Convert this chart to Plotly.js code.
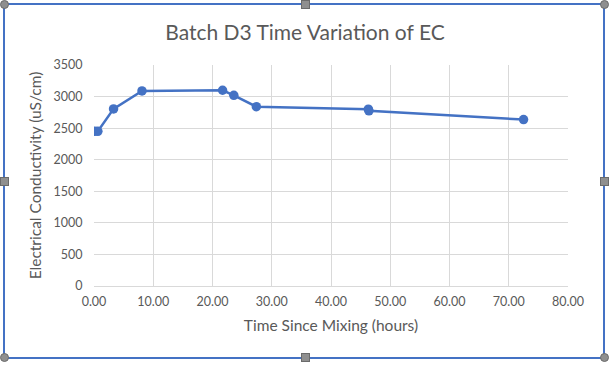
<!DOCTYPE html>
<html>
<head>
<meta charset="utf-8">
<script src="https://cdn.plot.ly/plotly-3.0.1.min.js"></script>
<style>
html,body{margin:0;padding:0;background:#fff;overflow:hidden;}
#wrap{position:relative;width:610px;height:367px;}
#chart{position:absolute;left:0;top:0;width:610px;height:367px;}
#frame{position:absolute;left:3px;top:3px;width:598px;height:352px;border:2px solid #4472C4;box-sizing:content-box;pointer-events:none;}
.h{position:absolute;width:9px;height:9px;background:#8f8f8f;border:1px solid #6b6b6b;box-sizing:border-box;}
.c{border-radius:50%;}
</style>
</head>
<body>
<div id="wrap">
<div id="chart"></div>
<div id="frame"></div>
</div>
<script>
const timeHours = [0.1, 0.65, 3.3, 8.1, 21.7, 23.6, 27.4, 46.3, 46.4, 72.5];
const ecValues  = [2450, 2450, 2805, 3090, 3100, 3020, 2840, 2800, 2775, 2635];
const xTickVals = [0, 10, 20, 30, 40, 50, 60, 70, 80];
const yTickVals = [0, 500, 1000, 1500, 2000, 2500, 3000, 3500];

const font = "Lato, 'Open Sans', sans-serif";
const trace = {
  x: timeHours, y: ecValues, type: 'scatter', mode: 'lines+markers',
  line: {color: '#4472C4', width: 2.5},
  marker: {color: '#4472C4', size: 9.5},
  hoverinfo: 'skip'
};
const layout = {
  width: 610, height: 367,
  margin: {l: 93.5, r: 42, t: 65, b: 81, pad: 0},
  paper_bgcolor: '#ffffff', plot_bgcolor: '#ffffff',
  showlegend: false,
  title: {text: 'Batch D3 Time Variation of EC', font: {family: font, size: 21, color: '#595959'}, x: 0.5, xanchor: 'center', xref: 'container', y: 1 - 33/367, yref: 'container', yanchor: 'middle'},
  xaxis: {
    range: [0, 80], tickvals: xTickVals, tickformat: '.2f',
    showgrid: true, gridcolor: '#d9d9d9', gridwidth: 1,
    zeroline: false, showline: true, linecolor: '#d9d9d9', linewidth: 1,
    ticks: 'outside', ticklen: 4, tickcolor: 'rgba(0,0,0,0)',
    tickfont: {family: font, size: 12.5, color: '#595959'},
    title: {text: 'Time Since Mixing (hours)', font: {family: font, size: 15.5, color: '#595959'}, standoff: 12},
    fixedrange: true
  },
  yaxis: {
    range: [0, 3500], tickvals: yTickVals,
    showgrid: true, gridcolor: '#d9d9d9', gridwidth: 1,
    zeroline: false, showline: false,
    ticks: 'outside', ticklen: 8, tickcolor: 'rgba(0,0,0,0)',
    tickfont: {family: font, size: 12.5, color: '#595959'},
    title: {text: 'Electrical Conductivity (uS/cm)', font: {family: font, size: 15.5, color: '#595959'}, standoff: 8},
    fixedrange: true
  }
};
Plotly.newPlot('chart', [trace], layout, {displayModeBar: false, staticPlot: true});

// selection handles of the chart frame
const wrap = document.getElementById('wrap');
const handles = [
  [4, 4, true], [305, 4, false], [604, 4, true],
  [4, 181, false], [604, 181, false],
  [4, 357, true], [305, 357, false], [604, 357, true]
];
handles.forEach(([cx, cy, round]) => {
  const d = document.createElement('div');
  d.className = 'h' + (round ? ' c' : '');
  d.style.left = (cx - 4.5) + 'px';
  d.style.top = (cy - 4.5) + 'px';
  wrap.appendChild(d);
});
</script>
</body>
</html>
